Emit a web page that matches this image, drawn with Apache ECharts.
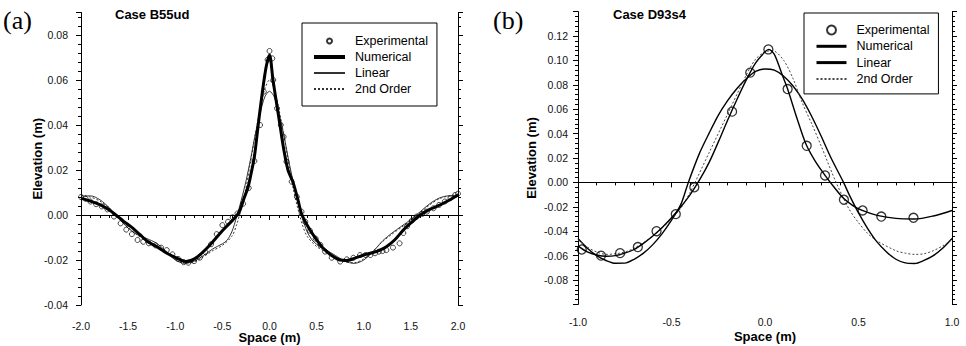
<!DOCTYPE html>
<html>
<head>
<meta charset="utf-8">
<script src="https://cdn.jsdelivr.net/npm/echarts@6/dist/echarts.min.js"></script>
<style>html,body{margin:0;padding:0;background:#fff}#c{width:966px;height:346px}</style>
</head>
<body>
<div id="c"></div>
<script>
// ---------- Panel (a): Case B55ud ----------
const aExpX = [-2.0,-1.95,-1.9,-1.84,-1.78,-1.72,-1.65,-1.58,-1.52,-1.46,-1.40,-1.34,-1.28,-1.21,-1.15,-1.09,-1.03,-0.97,-0.91,-0.86,-0.80,-0.74,-0.68,-0.62,-0.56,-0.50,-0.44,-0.39,-0.34,-0.28,-0.22,-0.16,-0.10,-0.06,-0.02,0.0,0.03,0.04,0.08,0.12,0.15,0.18,0.235,0.29,0.34,0.38,0.43,0.49,0.54,0.59,0.66,0.75,0.82,0.89,0.96,1.02,1.07,1.12,1.16,1.20,1.24,1.31,1.38,1.42,1.46,1.51,1.56,1.62,1.67,1.74,1.80,1.86,1.92,1.97,2.0];
const aExpY = [0.0080,0.0072,0.0060,0.0048,0.0038,0.0025,-0.0007,-0.0037,-0.0065,-0.0085,-0.0111,-0.0119,-0.0126,-0.0135,-0.0145,-0.0156,-0.0175,-0.0195,-0.0210,-0.0212,-0.0205,-0.0190,-0.0165,-0.0130,-0.0085,-0.0045,-0.0030,-0.0010,0.0007,0.0050,0.0120,0.0240,0.0400,0.0548,0.0690,0.0729,0.0696,0.0600,0.0474,0.0400,0.0348,0.0237,0.0148,0.0081,0.0015,-0.0030,-0.0070,-0.0105,-0.0133,-0.0163,-0.0190,-0.0207,-0.0197,-0.0190,-0.0178,-0.0178,-0.0178,-0.0170,-0.0163,-0.0160,-0.0156,-0.0145,-0.0126,-0.0080,-0.0050,-0.0025,-0.0007,0.0005,0.0015,0.0030,0.0045,0.0060,0.0075,0.0089,0.0095];

const aNumX = [-2.0,-1.9,-1.79,-1.7,-1.63,-1.55,-1.47,-1.38,-1.29,-1.2,-1.116,-1.03,-0.94,-0.886,-0.82,-0.762,-0.67,-0.585,-0.5,-0.44,-0.38,-0.32,-0.27,-0.23,-0.2,-0.16,-0.12,-0.09,-0.058,-0.03,0.0,0.037,0.07,0.111,0.15,0.196,0.25,0.3,0.345,0.43,0.5,0.57,0.66,0.75,0.82,0.9,1.0,1.07,1.16,1.24,1.33,1.42,1.5,1.6,1.7,1.77,1.88,2.0];
const aNumY = [0.0074,0.0062,0.0044,0.0022,0.0,-0.0027,-0.0052,-0.0085,-0.0119,-0.0140,-0.0163,-0.0183,-0.0200,-0.0207,-0.0200,-0.0185,-0.0150,-0.0111,-0.0070,-0.0044,-0.0018,0.0015,0.0075,0.0120,0.0175,0.0260,0.0400,0.0500,0.0600,0.0670,0.0711,0.0600,0.0510,0.0400,0.0295,0.0200,0.0145,0.0070,0.0,-0.0067,-0.0110,-0.0148,-0.0180,-0.0200,-0.0202,-0.0193,-0.0178,-0.0170,-0.0158,-0.0141,-0.0110,-0.0067,-0.0035,0.0,0.0025,0.0037,0.0060,0.0089];

const aLinX = [-2.0,-1.9,-1.8,-1.7,-1.6,-1.5,-1.4,-1.3,-1.2,-1.1,-1.0,-0.9,-0.8,-0.7,-0.6,-0.5,-0.45,-0.4,-0.35,-0.3,-0.25,-0.2,-0.15,-0.1,-0.05,0.0,0.05,0.1,0.15,0.2,0.25,0.3,0.35,0.4,0.45,0.5,0.6,0.7,0.8,0.9,1.0,1.1,1.2,1.3,1.4,1.5,1.6,1.7,1.8,1.9,2.0];
const aLinY = [0.0085,0.0085,0.0068,0.0032,-0.0015,-0.0058,-0.0088,-0.0105,-0.0125,-0.0160,-0.0200,-0.0215,-0.0205,-0.0180,-0.0150,-0.0128,-0.0112,-0.0075,-0.0010,0.0065,0.0150,0.0250,0.0360,0.0450,0.0525,0.0550,0.0525,0.0450,0.0360,0.0250,0.0150,0.0060,-0.0015,-0.0075,-0.0110,-0.0130,-0.0155,-0.0180,-0.0205,-0.0215,-0.0200,-0.0162,-0.0115,-0.0080,-0.0050,-0.0020,0.0015,0.0050,0.0075,0.0085,0.0085];

const a2ndX = [-2.0,-1.9,-1.8,-1.7,-1.6,-1.5,-1.4,-1.3,-1.2,-1.1,-1.0,-0.9,-0.8,-0.7,-0.6,-0.5,-0.4,-0.35,-0.3,-0.25,-0.2,-0.15,-0.1,-0.05,0.0,0.05,0.1,0.15,0.2,0.25,0.3,0.35,0.4,0.5,0.6,0.7,0.8,0.9,1.0,1.1,1.2,1.3,1.4,1.5,1.6,1.7,1.8,1.9,2.0];
const a2ndY = [0.0088,0.0080,0.0062,0.0030,-0.0012,-0.0055,-0.0090,-0.0115,-0.0135,-0.0162,-0.0192,-0.0212,-0.0208,-0.0185,-0.0158,-0.0135,-0.0095,-0.0045,0.0030,0.0120,0.0240,0.0360,0.0470,0.0560,0.0600,0.0560,0.0470,0.0360,0.0240,0.0120,0.0030,-0.0045,-0.0095,-0.0140,-0.0165,-0.0188,-0.0208,-0.0212,-0.0195,-0.0160,-0.0118,-0.0085,-0.0055,-0.0025,0.0010,0.0045,0.0072,0.0085,0.0090];

// ---------- Panel (b): Case D93s4 ----------
const bExpX = [-0.98,-0.877,-0.775,-0.68,-0.58,-0.477,-0.378,-0.176,-0.079,0.018,0.121,0.223,0.321,0.422,0.522,0.622,0.794];
const bExpY = [-0.055,-0.060,-0.058,-0.053,-0.040,-0.026,-0.004,0.058,0.090,0.109,0.0765,0.030,0.0057,-0.0142,-0.023,-0.028,-0.029];

const bNumX = [-1.0,-0.95,-0.9,-0.85,-0.8,-0.75,-0.7,-0.65,-0.6,-0.55,-0.5,-0.45,-0.4,-0.35,-0.3,-0.25,-0.2,-0.15,-0.1,-0.05,0.0,0.02,0.05,0.09,0.12,0.17,0.22,0.27,0.32,0.37,0.42,0.47,0.52,0.6,0.7,0.8,0.9,1.0];
const bNumY = [-0.052,-0.057,-0.0595,-0.0605,-0.060,-0.058,-0.055,-0.050,-0.044,-0.037,-0.029,-0.020,-0.010,0.002,0.016,0.033,0.051,0.068,0.084,0.098,0.107,0.109,0.105,0.089,0.077,0.053,0.031,0.017,0.006,-0.004,-0.013,-0.019,-0.023,-0.027,-0.0295,-0.030,-0.0275,-0.023];

const bLinX = [-1.0,-0.95,-0.9,-0.85,-0.8,-0.75,-0.7,-0.65,-0.6,-0.55,-0.5,-0.45,-0.41,-0.35,-0.3,-0.25,-0.2,-0.15,-0.1,-0.05,0.0,0.05,0.1,0.15,0.2,0.25,0.3,0.35,0.42,0.45,0.5,0.55,0.6,0.65,0.7,0.75,0.8,0.85,0.9,0.95,1.0];
const bLinY = [-0.046,-0.054,-0.060,-0.064,-0.0663,-0.0662,-0.063,-0.058,-0.051,-0.042,-0.031,-0.018,0.0,0.024,0.040,0.055,0.067,0.077,0.085,0.091,0.093,0.092,0.087,0.079,0.068,0.054,0.038,0.021,0.0,-0.010,-0.025,-0.038,-0.049,-0.057,-0.063,-0.066,-0.0665,-0.064,-0.060,-0.054,-0.046];

const b2ndX = [-1.0,-0.95,-0.9,-0.85,-0.8,-0.75,-0.7,-0.6,-0.5,-0.45,-0.4,-0.3,-0.2,-0.1,-0.05,0.0,0.04,0.1,0.15,0.2,0.25,0.3,0.38,0.45,0.5,0.55,0.6,0.7,0.75,0.8,0.85,0.9,0.95,1.0];
const b2ndY = [-0.047,-0.053,-0.057,-0.059,-0.0585,-0.057,-0.054,-0.044,-0.030,-0.021,-0.008,0.024,0.056,0.088,0.101,0.107,0.108,0.100,0.085,0.065,0.048,0.030,0.0,-0.022,-0.033,-0.042,-0.048,-0.056,-0.058,-0.059,-0.0585,-0.056,-0.052,-0.047];

const xTicksA = { min: -2, max: 2, interval: 0.5 };
const yTicksA = { min: -0.04, max: 0.09, interval: 0.02 };
const xTicksB = { min: -1, max: 1, interval: 0.5 };
const yTicksB = { min: -0.1, max: 0.14, interval: 0.02 };

function pairs(xs, ys) { return xs.map((x, i) => [x, ys[i]]); }

const FONT = "'Liberation Sans', Arial, Helvetica, sans-serif";
const tickLabel = { fontFamily: FONT, fontSize: 10.5, color: '#111' };

function xLabelAxis(grid, t, margin) {
  return {
    type: 'value', gridIndex: grid, position: 'bottom', min: t.min, max: t.max, interval: t.interval,
    axisLine: { show: false, onZero: false }, axisTick: { show: false }, splitLine: { show: false },
    axisLabel: Object.assign({ margin: margin, formatter: v => (Math.abs(v) < 1e-9 ? 0 : v).toFixed(1) }, tickLabel),
    name: 'Space (m)', nameLocation: 'middle', nameGap: 26, nameMoveOverlap: false,
    nameTextStyle: { fontFamily: FONT, fontSize: 13, fontWeight: 'bold', color: '#000' }
  };
}
function xZeroAxis(grid, t, yIdx) {
  return {
    type: 'value', gridIndex: grid, position: 'bottom', min: t.min, max: t.max, interval: t.interval,
    axisLine: { show: true, onZero: true, onZeroAxisIndex: yIdx, lineStyle: { color: '#000', width: 1.2 } },
    axisTick: { show: true, length: 5, lineStyle: { color: '#000', width: 1 } },
    minorTick: { show: true, splitNumber: 5, length: 3, lineStyle: { color: '#000', width: 1 } },
    axisLabel: { show: false }, splitLine: { show: false }, minorSplitLine: { show: false }
  };
}
function yLeftAxis(grid, t, margin, gap, fmt) {
  return {
    type: 'value', gridIndex: grid, position: 'left', min: t.min, max: t.max, interval: t.interval,
    axisLine: { show: true, onZero: false, lineStyle: { color: '#000', width: 1 } },
    axisTick: { show: true, length: 5, lineStyle: { color: '#000' } },
    minorTick: { show: true, splitNumber: 5, length: 3, lineStyle: { color: '#000' } },
    splitLine: { show: false },
    axisLabel: Object.assign({ margin: margin, formatter: fmt }, tickLabel),
    name: 'Elevation (m)', nameLocation: 'middle', nameGap: gap, nameMoveOverlap: false,
    nameTextStyle: { fontFamily: FONT, fontSize: 13, fontWeight: 'bold', color: '#000' }
  };
}
function yRightAxis(grid, t) {
  return {
    type: 'value', gridIndex: grid, position: 'right', min: t.min, max: t.max, interval: t.interval,
    axisLine: { show: true, onZero: false, lineStyle: { color: '#000', width: 1 } },
    axisTick: { show: true, length: 5, lineStyle: { color: '#000' } },
    minorTick: { show: true, splitNumber: 5, length: 3, lineStyle: { color: '#000' } },
    splitLine: { show: false }, axisLabel: { show: false }
  };
}
const fmtA = v => {
  if (Math.abs(v * 50 - Math.round(v * 50)) > 1e-6) return '';
  return (Math.abs(v) < 1e-9 ? 0 : v).toFixed(2);
};
const fmtB = v => {
  if (v > 0.13 || v < -0.09) return '';
  return (Math.abs(v) < 1e-9 ? 0 : v).toFixed(2);
};

const legendText = { fontFamily: FONT, fontSize: 12.5, color: '#000', lineHeight: 14, padding: [0, 0, 0, 5] };
const noSym = { opacity: 0 };

const option = {
  animation: false,
  backgroundColor: '#fff',
  grid: [
    { left: 81, right: 508, top: 12.5, bottom: 41, outerBoundsMode: 'none', containLabel: false },
    { left: 578, right: 14, top: 11.6, bottom: 41.6, outerBoundsMode: 'none', containLabel: false }
  ],
  xAxis: [
    xLabelAxis(0, xTicksA, 15),
    xZeroAxis(0, xTicksA, 0),
    xLabelAxis(1, xTicksB, 12),
    xZeroAxis(1, xTicksB, 2)
  ],
  yAxis: [
    yLeftAxis(0, yTicksA, 13, 37, fmtA),
    yRightAxis(0, yTicksA),
    yLeftAxis(1, yTicksB, 10, 40, fmtB),
    yRightAxis(1, yTicksB)
  ],
  legend: [
    {
      left: 302, top: 23, orient: 'vertical', itemWidth: 31, itemHeight: 5, itemGap: 2,
      padding: [11, 9, 10, 10], borderColor: '#000', borderWidth: 1, backgroundColor: '#fff',
      textStyle: legendText, selectedMode: false,
      data: [
        'Experimental',
        { name: 'Numerical', itemStyle: noSym, lineStyle: { width: 4 } },
        { name: 'Linear', itemStyle: noSym },
        { name: '2nd Order', itemStyle: noSym }
      ]
    },
    {
      left: 804, top: 13, orient: 'vertical', itemWidth: 30, itemHeight: 9, itemGap: 2.3,
      padding: [10, 9, 8, 11], borderColor: '#000', borderWidth: 1, backgroundColor: '#fff',
      textStyle: legendText, selectedMode: false,
      formatter: n => n.replace(' (b)', ''),
      data: [
        'Experimental (b)',
        { name: 'Numerical (b)', itemStyle: noSym, lineStyle: { width: 3 } },
        { name: 'Linear (b)', itemStyle: noSym, lineStyle: { width: 3 } },
        { name: '2nd Order (b)', itemStyle: noSym }
      ]
    }
  ],
  graphic: [
    { type: 'text', left: 3, top: 7, style: { text: '(a)', font: "26px 'Liberation Serif', 'Times New Roman', serif", fill: '#000' } },
    { type: 'text', left: 493, top: 7, style: { text: '(b)', font: "26px 'Liberation Serif', 'Times New Roman', serif", fill: '#000' } },
    { type: 'text', left: 115, top: 8, style: { text: 'Case B55ud', font: "bold 13px 'Liberation Sans', Arial, sans-serif", fill: '#000' } },
    { type: 'text', left: 613, top: 8, style: { text: 'Case D93s4', font: "bold 13px 'Liberation Sans', Arial, sans-serif", fill: '#000' } }
  ],
  series: [
    { name: 'Linear', type: 'line', xAxisIndex: 0, yAxisIndex: 0, data: pairs(aLinX, aLinY), smooth: 0.3,
      symbol: 'none', lineStyle: { color: '#333', width: 1 }, itemStyle: { color: '#333' } },
    { name: '2nd Order', type: 'line', xAxisIndex: 0, yAxisIndex: 0, data: pairs(a2ndX, a2ndY), smooth: 0.3,
      symbol: 'none', lineStyle: { color: '#333', width: 1, type: [2, 2] }, itemStyle: { color: '#333' } },
    { name: 'Numerical', type: 'line', xAxisIndex: 0, yAxisIndex: 0, data: pairs(aNumX, aNumY), smooth: 0.3,
      symbol: 'none', lineStyle: { color: '#000', width: 3 }, itemStyle: { color: '#000' } },
    { name: 'Experimental', type: 'scatter', xAxisIndex: 0, yAxisIndex: 0, data: pairs(aExpX, aExpY),
      symbol: 'circle', symbolSize: 5, itemStyle: { color: 'rgba(255,255,255,0)', borderColor: '#000', borderWidth: 0.9 }, z: 5 },

    { name: 'Linear (b)', type: 'line', xAxisIndex: 2, yAxisIndex: 2, data: pairs(bLinX, bLinY), smooth: 0.3,
      symbol: 'none', lineStyle: { color: '#000', width: 1.4 }, itemStyle: { color: '#000' } },
    { name: '2nd Order (b)', type: 'line', xAxisIndex: 2, yAxisIndex: 2, data: pairs(b2ndX, b2ndY), smooth: 0.3,
      symbol: 'none', lineStyle: { color: '#444', width: 1, type: [2, 2] }, itemStyle: { color: '#444' } },
    { name: 'Numerical (b)', type: 'line', xAxisIndex: 2, yAxisIndex: 2, data: pairs(bNumX, bNumY), smooth: 0.3,
      symbol: 'none', lineStyle: { color: '#000', width: 1.4 }, itemStyle: { color: '#000' } },
    { name: 'Experimental (b)', type: 'scatter', xAxisIndex: 2, yAxisIndex: 2, data: pairs(bExpX, bExpY),
      symbol: 'circle', symbolSize: 9, itemStyle: { color: 'rgba(255,255,255,0)', borderColor: '#000', borderWidth: 1.3 }, z: 5 }
  ]
};

const chart = echarts.init(document.getElementById('c'), null, { renderer: 'svg' });
chart.setOption(option);
</script>
</body>
</html>
